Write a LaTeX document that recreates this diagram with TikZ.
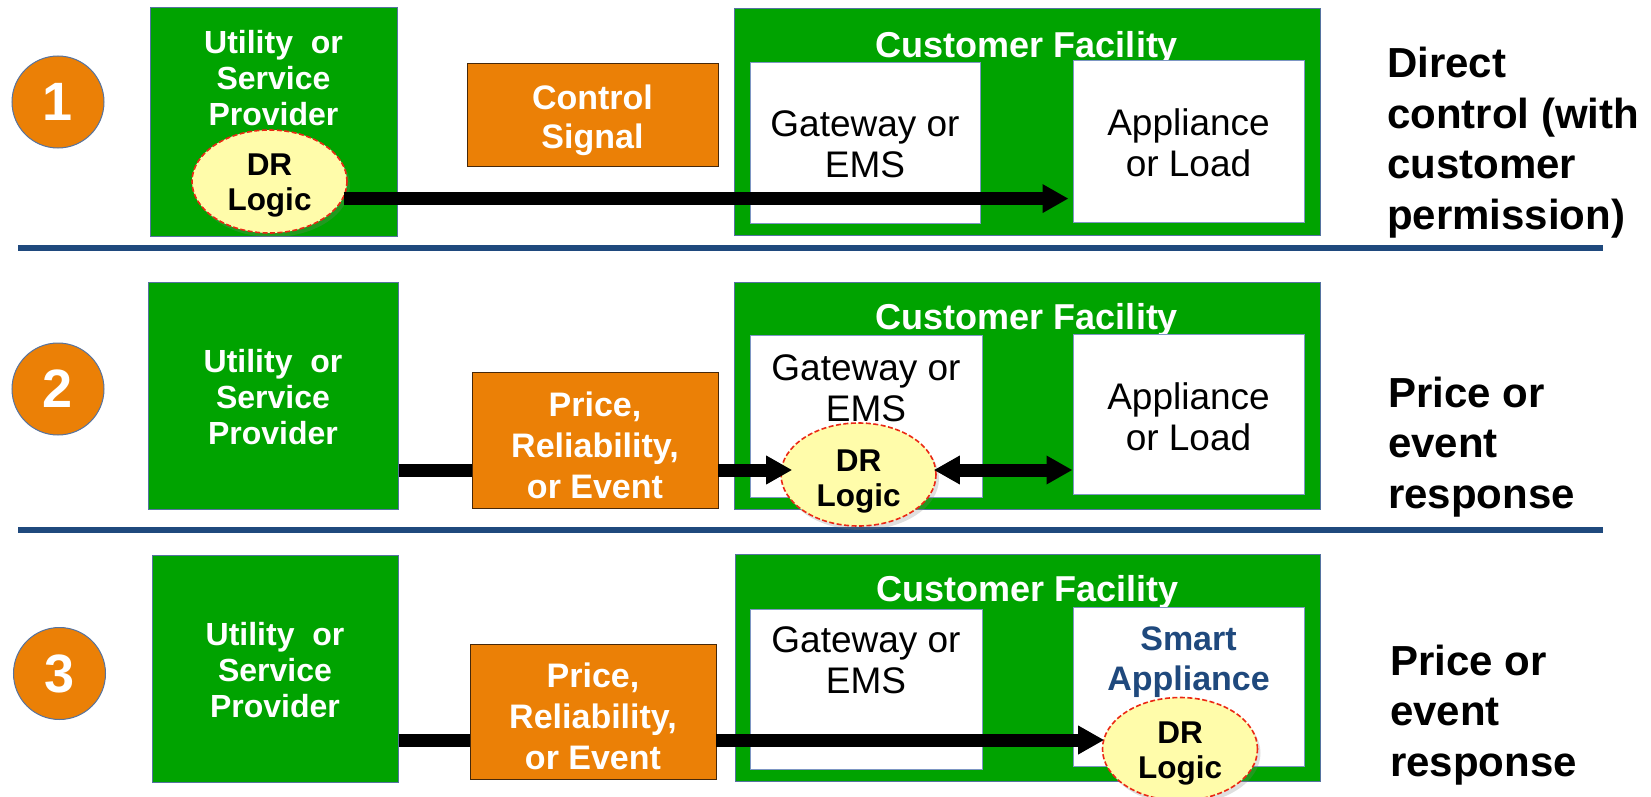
\documentclass[tikz,border=0pt]{standalone}
\usepackage{fontspec}
\setmainfont{Liberation Sans}
\usetikzlibrary{arrows.meta,shapes.geometric,shadows}
\definecolor{dgreen}{RGB}{0,163,0}
\definecolor{gborder}{RGB}{85,115,160}
\definecolor{dorange}{RGB}{235,128,6}
\definecolor{oborder}{RGB}{70,40,10}
\definecolor{wborder}{RGB}{125,150,195}
\definecolor{navy}{RGB}{31,73,125}
\definecolor{lyellow}{RGB}{255,252,170}
\definecolor{dashred}{RGB}{235,40,20}
\newcommand{\fsz}[2]{\fontsize{#1}{#2}\selectfont}
\begin{document}
\begin{tikzpicture}[x=1pt,y=-1pt,
  gbox/.style={rectangle, fill=dgreen, draw=gborder, line width=1pt, inner sep=0pt},
  wbox/.style={rectangle, fill=white, draw=wborder, line width=1pt, inner sep=0pt},
  obox/.style={rectangle, fill=dorange, draw=oborder, line width=0.8pt, inner sep=0pt},
  numc/.style={circle, fill=dorange, draw=gborder, line width=1pt, minimum size=92pt, inner sep=0pt, text=white, font=\bfseries\fsz{54}{60}},
  drell/.style={ellipse, fill=lyellow, draw=dashred, line width=1.6pt, dash pattern=on 5pt off 2.5pt, minimum width=155pt, minimum height=103pt, inner sep=0pt, drop shadow={opacity=0.25, shadow xshift=3pt, shadow yshift=-4pt}},
  wtxt/.style={text=white, font=\bfseries\fsz{32}{36}, align=center, inner sep=0pt},
  otxt/.style={text=white, font=\bfseries\fsz{34}{40}, align=center, inner sep=0pt},
  cftxt/.style={text=white, font=\bfseries\fsz{36}{40}, inner sep=0pt},
  btxt/.style={text=black, font=\fsz{37}{41}, align=center, inner sep=0pt},
  drtxt/.style={text=black, font=\bfseries\fsz{31.5}{35}, align=center, inner sep=0pt},
  rtxt/.style={text=black, font=\bfseries\fsz{42}{50.5}, align=left, anchor=west, inner sep=0pt},
  sep/.style={draw=navy, line width=6pt},
  shaft/.style={line width=13pt, black},
  arr/.style={shaft, -{Triangle[length=26pt,width=27pt]}},
  arrtwo/.style={shaft, {Triangle[length=26pt,width=27pt]}-{Triangle[length=26pt,width=27pt]}}
]
\useasboundingbox (0,0) rectangle (1651,797);

% separators
\coordinate (s1l) at (18,248);
\coordinate (s1r) at (1603,248);
\coordinate (s2l) at (18,530);
\coordinate (s2r) at (1603,530);
\draw[sep] (s1l) -- (s1r);
\draw[sep] (s2l) -- (s2r);

% number circles
\node[numc] (c1) at (58,102) {1};
\node[numc] (c2) at (58,389) {2};
\node[numc] (c3) at (59.5,673.5) {3};

% utility boxes
\node[gbox, minimum width=247pt, minimum height=228pt] (util1) at (273.5,122) {};
\node[gbox, minimum width=250pt, minimum height=227pt] (util2) at (273,395.5) {};
\node[gbox, minimum width=246pt, minimum height=227pt] (util3) at (275,668.5) {};
\node[wtxt] (util1t) at (273.5,78) {Utility\ \ or\\Service\\Provider};
\node[wtxt] (util2t) at (273,397) {Utility\ \ or\\Service\\Provider};
\node[wtxt] (util3t) at (275,670) {Utility\ \ or\\Service\\Provider};

% customer facility boxes
\node[gbox, minimum width=586pt, minimum height=226pt] (cf1) at (1027,122) {};
\node[gbox, minimum width=586pt, minimum height=227pt] (cf2) at (1027,395.5) {};
\node[gbox, minimum width=585pt, minimum height=227pt] (cf3) at (1027.5,667.5) {};
\node[cftxt] (cf1t) at (1027,48) {Customer Facility};
\node[cftxt] (cf2t) at (1027,320) {Customer Facility};
\node[cftxt] (cf3t) at (1027.5,592) {Customer Facility};

% gateway and appliance boxes
\node[wbox, minimum width=230pt, minimum height=160pt] (gw1) at (865,143) {};
\node[wbox, minimum width=231pt, minimum height=161pt] (app1) at (1188.5,141.5) {};
\node[wbox, minimum width=232pt, minimum height=162pt] (gw2) at (866,416) {};
\node[wbox, minimum width=231pt, minimum height=160pt] (app2) at (1188.5,414) {};
\node[wbox, minimum width=232pt, minimum height=160pt] (gw3) at (866,689) {};
\node[wbox, minimum width=231pt, minimum height=159pt] (app3) at (1188.5,686.5) {};
\node[btxt] (gw1t) at (865,144.5) {Gateway or\\EMS};
\node[btxt] (gw2t) at (866,388) {Gateway or\\EMS};
\node[btxt] (gw3t) at (866,660) {Gateway or\\EMS};
\node[btxt] (app1t) at (1188.5,143) {Appliance\\or Load};
\node[btxt] (app2t) at (1188.5,416.5) {Appliance\\or Load};
\node[otxt, text=navy] (app3t) at (1188.5,662.5) {Smart\\Appliance};

% orange signal boxes
\node[obox, minimum width=251pt, minimum height=103pt] (cs1) at (592.5,114.5) {};
\node[obox, minimum width=246pt, minimum height=136pt] (pr2) at (595,440) {};
\node[obox, minimum width=246pt, minimum height=135pt] (pr3) at (593,711.5) {};
\node[otxt, font=\bfseries\fsz{34}{39}] (cs1t) at (592.5,120) {Control\\Signal};
\node[otxt, font=\bfseries\fsz{34}{41}] (pr2t) at (595,445) {Price,\\Reliability,\\or Event};
\node[otxt, font=\bfseries\fsz{34}{41}] (pr3t) at (593,716) {Price,\\Reliability,\\or Event};

% DR logic ellipses
\node[drell] (dr1) at (269.5,181.5) {};
\node[drell] (dr2) at (858.5,474.5) {};
\node[drell] (dr3) at (1180,749) {};
\node[drtxt] (dr1t) at (269.5,186) {DR\\Logic};
\node[drtxt] (dr2t) at (858.5,481) {DR\\Logic};
\node[drtxt] (dr3t) at (1180,753) {DR\\Logic};

% connectors
\coordinate (a1) at (dr1.-13.5);
\coordinate (y2) at (0,470);
\coordinate (y3) at (0,740);
\draw[arr, shorten >=4pt] (a1) -- (app1.west |- a1);
\draw[shaft] (util2.east |- y2) -- (pr2.west |- y2);
\draw[arr, shorten >=-12pt] (pr2.east |- y2) -- (dr2.west |- y2);
\draw[arrtwo, shorten <=-3pt] (dr2.east |- y2) -- (app2.west |- y2);
\draw[shaft] (util3.east |- y3) -- (pr3.west |- y3);
\draw[arr, shorten >=-2.5pt] (pr3.east |- y3) -- (dr3.west |- y3);

% right-hand descriptions
\node[rtxt] (r1) at (1387,142.4) {Direct\\control (with\\customer\\permission)};
\node[rtxt] (r2) at (1388,447) {Price or\\event\\response};
\node[rtxt] (r3) at (1390,715) {Price or\\event\\response};
\end{tikzpicture}
\end{document}
